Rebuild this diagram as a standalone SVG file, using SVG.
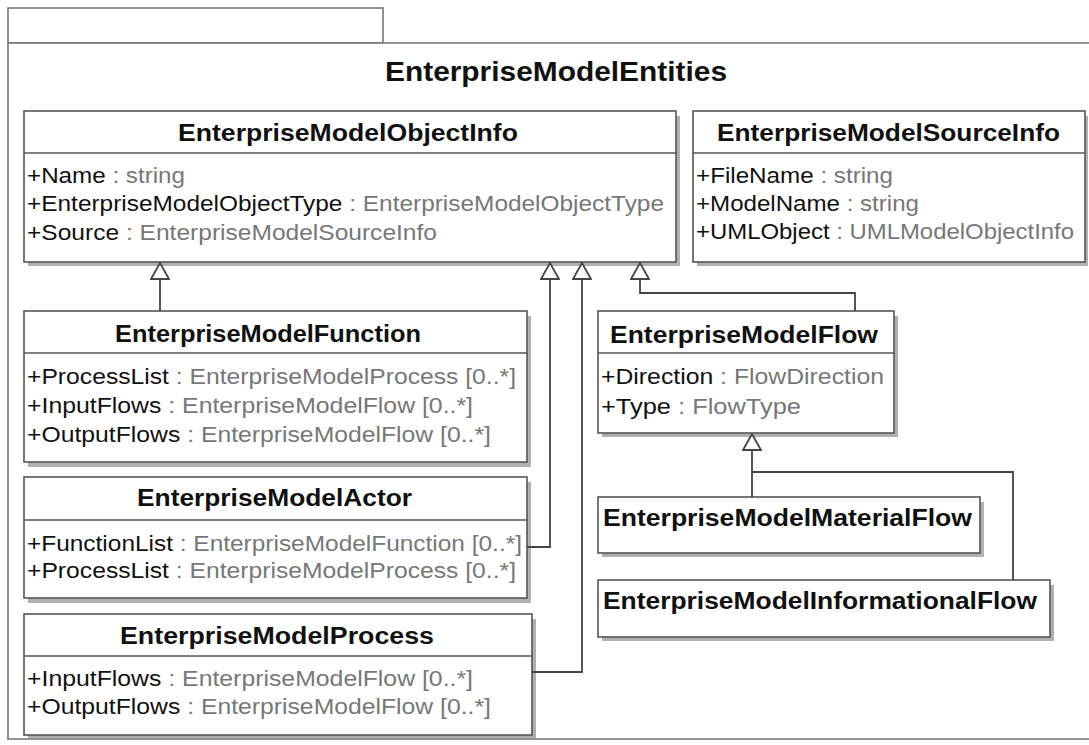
<svg xmlns="http://www.w3.org/2000/svg" width="1089" height="745" viewBox="0 0 1089 745">
<style>
.box{fill:#fff;stroke:#555;stroke-width:1.6}
.shadow{fill:#b0b0b0}
.sep{stroke:#555;stroke-width:1.6}
.title{font-family:"Liberation Sans",Arial,sans-serif;font-weight:bold;font-size:23px;fill:#111}
.attr{font-family:"Liberation Sans",Arial,sans-serif;font-size:22px;fill:#111}
.type{fill:#777}
.pkg{fill:#fff;stroke:#777;stroke-width:1.6}
.conn{fill:none;stroke:#444;stroke-width:1.8}
.tri{fill:#fff;stroke:#444;stroke-width:1.8}
</style>
<defs>
<marker id="gen" viewBox="0 0 18 20" refX="17" refY="10" markerWidth="18" markerHeight="20" markerUnits="userSpaceOnUse" orient="auto">
<path d="M1,1 L17,10 L1,19 Z" class="tri"/>
</marker>
</defs>
<rect width="1089" height="745" fill="#fff"/>
<g id="package">
<rect class="pkg" x="8" y="8" width="375" height="35"/>
<rect class="pkg" x="8" y="43" width="1090" height="696"/>
<text x="556" y="81" text-anchor="middle" textLength="342" lengthAdjust="spacingAndGlyphs" style="font-family:'Liberation Sans',Arial,sans-serif;font-weight:bold;font-size:28px;fill:#111">EnterpriseModelEntities</text>
</g>
<g id="ObjectInfo">
<rect class="shadow" x="28" y="116" width="652" height="150"/>
<rect class="box" x="24" y="111" width="652" height="151"/>
<line class="sep" x1="24" y1="153" x2="676" y2="153"/>
<text class="title" x="178" y="141" textLength="340" lengthAdjust="spacingAndGlyphs">EnterpriseModelObjectInfo</text>
<text class="attr" x="27" y="183" textLength="158" lengthAdjust="spacingAndGlyphs">+Name<tspan class="type"> : string</tspan></text>
<text class="attr" x="27" y="211" textLength="637" lengthAdjust="spacingAndGlyphs">+EnterpriseModelObjectType<tspan class="type"> : EnterpriseModelObjectType</tspan></text>
<text class="attr" x="27" y="240" textLength="410" lengthAdjust="spacingAndGlyphs">+Source<tspan class="type"> : EnterpriseModelSourceInfo</tspan></text>
</g>
<g id="SourceInfo">
<rect class="shadow" x="697" y="116" width="391" height="150"/>
<rect class="box" x="693" y="111" width="392" height="151"/>
<line class="sep" x1="693" y1="153" x2="1085" y2="153"/>
<text class="title" x="717" y="141" textLength="343" lengthAdjust="spacingAndGlyphs">EnterpriseModelSourceInfo</text>
<text class="attr" x="696" y="183" textLength="197" lengthAdjust="spacingAndGlyphs">+FileName<tspan class="type"> : string</tspan></text>
<text class="attr" x="696" y="211" textLength="223" lengthAdjust="spacingAndGlyphs">+ModelName<tspan class="type"> : string</tspan></text>
<text class="attr" x="696" y="239" textLength="378" lengthAdjust="spacingAndGlyphs">+UMLObject<tspan class="type"> : UMLModelObjectInfo</tspan></text>
</g>
<g id="Function">
<rect class="shadow" x="28" y="316" width="503" height="151"/>
<rect class="box" x="24" y="311" width="503" height="151"/>
<line class="sep" x1="24" y1="353" x2="527" y2="353"/>
<text class="title" x="115" y="342" textLength="306" lengthAdjust="spacingAndGlyphs">EnterpriseModelFunction</text>
<text class="attr" x="27" y="384" textLength="489" lengthAdjust="spacingAndGlyphs">+ProcessList<tspan class="type"> : EnterpriseModelProcess [0..*]</tspan></text>
<text class="attr" x="27" y="413" textLength="446" lengthAdjust="spacingAndGlyphs">+InputFlows<tspan class="type"> : EnterpriseModelFlow [0..*]</tspan></text>
<text class="attr" x="27" y="442" textLength="464" lengthAdjust="spacingAndGlyphs">+OutputFlows<tspan class="type"> : EnterpriseModelFlow [0..*]</tspan></text>
</g>
<g id="Actor">
<rect class="shadow" x="28" y="482" width="503" height="121"/>
<rect class="box" x="24" y="477" width="503" height="121"/>
<line class="sep" x1="24" y1="520" x2="527" y2="520"/>
<text class="title" x="137" y="506" textLength="275" lengthAdjust="spacingAndGlyphs">EnterpriseModelActor</text>
<text class="attr" x="27" y="551" textLength="495" lengthAdjust="spacingAndGlyphs">+FunctionList<tspan class="type"> : EnterpriseModelFunction [0..*]</tspan></text>
<text class="attr" x="27" y="578" textLength="489" lengthAdjust="spacingAndGlyphs">+ProcessList<tspan class="type"> : EnterpriseModelProcess [0..*]</tspan></text>
</g>
<g id="Process">
<rect class="shadow" x="28" y="619" width="508" height="119"/>
<rect class="box" x="24" y="614" width="508" height="121"/>
<line class="sep" x1="24" y1="656" x2="532" y2="656"/>
<text class="title" x="120" y="644" textLength="314" lengthAdjust="spacingAndGlyphs">EnterpriseModelProcess</text>
<text class="attr" x="27" y="686" textLength="446" lengthAdjust="spacingAndGlyphs">+InputFlows<tspan class="type"> : EnterpriseModelFlow [0..*]</tspan></text>
<text class="attr" x="27" y="714" textLength="464" lengthAdjust="spacingAndGlyphs">+OutputFlows<tspan class="type"> : EnterpriseModelFlow [0..*]</tspan></text>
</g>
<g id="Flow">
<rect class="shadow" x="602" y="316" width="296" height="121"/>
<rect class="box" x="598" y="311" width="296" height="122"/>
<line class="sep" x1="598" y1="353" x2="894" y2="353"/>
<text class="title" x="610" y="343" textLength="268" lengthAdjust="spacingAndGlyphs">EnterpriseModelFlow</text>
<text class="attr" x="601" y="384" textLength="283" lengthAdjust="spacingAndGlyphs">+Direction<tspan class="type"> : FlowDirection</tspan></text>
<text class="attr" x="601" y="414" textLength="200" lengthAdjust="spacingAndGlyphs">+Type<tspan class="type"> : FlowType</tspan></text>
</g>
<g id="MaterialFlow">
<rect class="shadow" x="602" y="502" width="382" height="55"/>
<rect class="box" x="598" y="497" width="382" height="56"/>
<text class="title" x="603" y="526" textLength="369" lengthAdjust="spacingAndGlyphs">EnterpriseModelMaterialFlow</text>
</g>
<g id="InformationalFlow">
<rect class="shadow" x="602" y="585" width="452" height="56"/>
<rect class="box" x="598" y="580" width="452" height="57"/>
<text class="title" x="603" y="609" textLength="434" lengthAdjust="spacingAndGlyphs">EnterpriseModelInformationalFlow</text>
</g>
<g id="connectors">
<path class="conn" d="M160,311 V263" marker-end="url(#gen)"/>
<path class="conn" d="M527,547 H550 V263" marker-end="url(#gen)"/>
<path class="conn" d="M532,672 H582 V263" marker-end="url(#gen)"/>
<path class="conn" d="M855,311 V293 H640 V263" marker-end="url(#gen)"/>
<path class="conn" d="M752,497 V434" marker-end="url(#gen)"/>
<path class="conn" d="M1013,580 V472 H752"/>
</g>
</svg>
